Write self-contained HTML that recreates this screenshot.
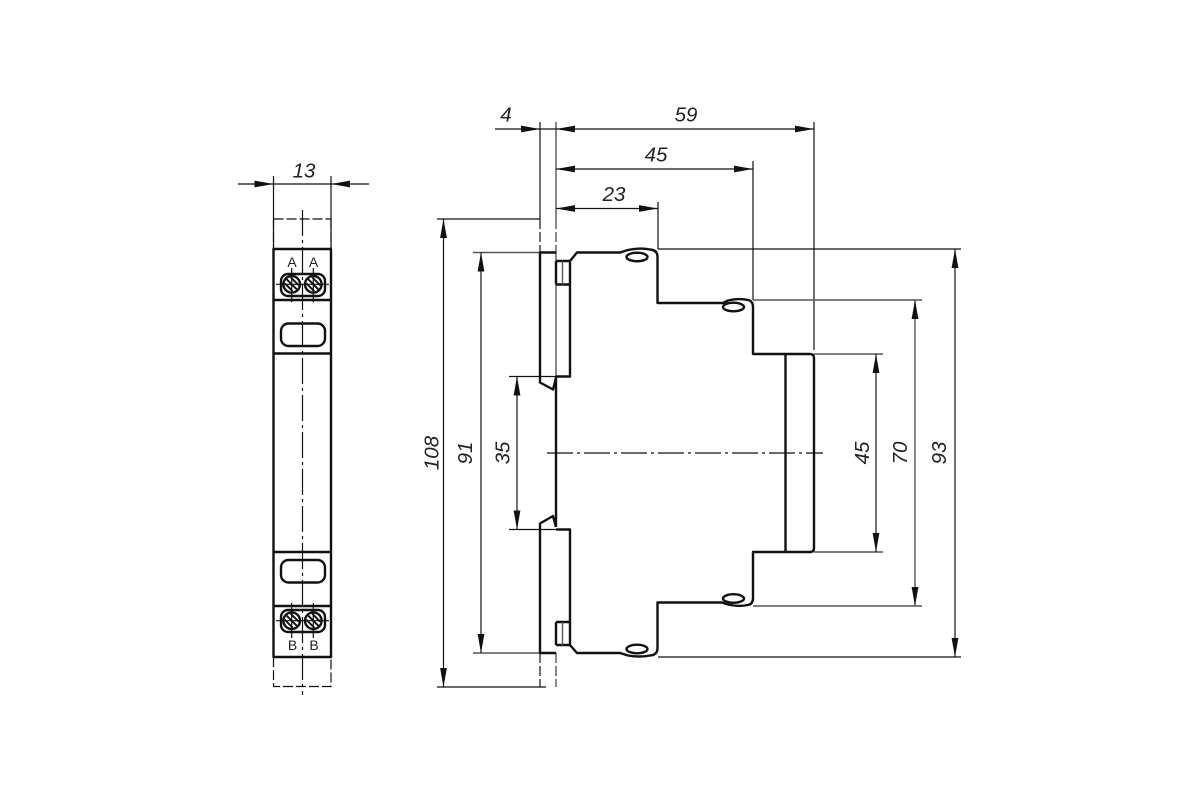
<!DOCTYPE html>
<html><head><meta charset="utf-8"><style>
html,body{margin:0;padding:0;background:#fff}
svg{display:block}
text{font-family:"Liberation Sans",sans-serif;font-style:italic;font-size:20.500px;fill:#222;text-anchor:middle}
.l{font-style:normal;font-size:14px}
.t{stroke:#111;stroke-width:1.200;fill:none}
.g{stroke:#555;stroke-width:1.400;fill:none}
.k{stroke:#111;stroke-width:2.400;fill:none;stroke-linejoin:round}
.a{fill:#111;stroke:none}
</style></head><body>
<svg width="1200" height="800" viewBox="0 0 1200 800" xmlns="http://www.w3.org/2000/svg">
<defs>
<g id="ar"><path class="a" d="M0 0L-19 -3.400L-19 3.400Z"/></g>
<g id="scr"><circle class="k" r="8.300"/><path d="M-5.500 -5.500L5.500 5.500M-1 -7L7 1M-7 -1L1 7" stroke="#111" stroke-width="1.900" fill="none"/></g>
</defs>

<!-- LEFT VIEW -->
<path class="t" d="M273.500 176V249M331 176V249M238 184H369"/>
<use href="#ar" transform="translate(273.500 184)"/>
<use href="#ar" transform="translate(331 184) rotate(180)"/>
<path class="t" stroke-dasharray="10 3" d="M273.500 219H331M273.500 219V249M331 219V249M273.500 657V686.500H331V657"/>
<path class="t" stroke-dasharray="26 4 3 4" d="M302.500 210V695"/>
<rect class="k" x="273.500" y="249" width="57.500" height="408"/>
<path class="k" d="M273.500 300H331M273.500 353.500H331M273.500 552H331M273.500 606H331"/>
<rect class="k" x="281" y="274" width="44" height="22" rx="7"/>
<rect class="k" x="281" y="323.500" width="44" height="22.500" rx="7.500"/>
<rect class="k" x="281" y="560" width="44" height="22.500" rx="7.500"/>
<rect class="k" x="281" y="610" width="44" height="22" rx="7"/>
<use href="#scr" transform="translate(291.700 284.300)"/>
<use href="#scr" transform="translate(313.300 284.300)"/>
<use href="#scr" transform="translate(291.700 620.700)"/>
<use href="#scr" transform="translate(313.300 620.700)"/>
<path class="t" d="M276 284.300H329M291.700 268V302M313.300 268V302M276 620.700H329M291.700 603V638M313.300 603V638"/>
<text class="l" x="292" y="267">A</text>
<text class="l" x="313.500" y="267">A</text>
<text class="l" x="292.500" y="650">B</text>
<text class="l" x="314" y="650">B</text>
<text x="304" y="177.500">13</text>

<!-- RIGHT VIEW: extension lines -->
<path class="t" d="M540 122V219M658 202V249M753 161V300M814 122V350"/>
<path class="g" d="M556 122V219M556 252V376M473 252.500H540M473 653H540"/>
<path class="t" stroke-dasharray="10 3" d="M540 219V252M540 653V687"/>
<path class="g" stroke-dasharray="10 3" d="M556 219V252M556 653V687"/>
<path class="t" d="M437 219H540M437 687H546"/>
<path class="t" d="M509 376.500H556M509 529.500H556"/>
<path class="t" d="M658 249H961M658 657H961"/>
<path class="g" d="M753 300H922M753 606H922M814 354H883M814 552H883"/>

<!-- dimension lines -->
<path class="t" d="M495 129H814M556 169H753M556 208.500H658"/>
<path class="t" d="M443.500 219V687M481 252.500V653M517 376.500V529.500M876 354V552M955 249V657"/>
<path class="g" d="M915 300V606"/>
<use href="#ar" transform="translate(540 129)"/>
<use href="#ar" transform="translate(556 129) rotate(180)"/>
<use href="#ar" transform="translate(814 129)"/>
<use href="#ar" transform="translate(556 169) rotate(180)"/>
<use href="#ar" transform="translate(753 169)"/>
<use href="#ar" transform="translate(556 208.500) rotate(180)"/>
<use href="#ar" transform="translate(658 208.500)"/>
<use href="#ar" transform="translate(443.500 219) rotate(-90)"/>
<use href="#ar" transform="translate(443.500 687) rotate(90)"/>
<use href="#ar" transform="translate(481 252.500) rotate(-90)"/>
<use href="#ar" transform="translate(481 653) rotate(90)"/>
<use href="#ar" transform="translate(517 376.500) rotate(-90)"/>
<use href="#ar" transform="translate(517 529.500) rotate(90)"/>
<use href="#ar" transform="translate(876 354) rotate(-90)"/>
<use href="#ar" transform="translate(876 552) rotate(90)"/>
<use href="#ar" transform="translate(915 300) rotate(-90)"/>
<use href="#ar" transform="translate(915 606) rotate(90)"/>
<use href="#ar" transform="translate(955 249) rotate(-90)"/>
<use href="#ar" transform="translate(955 657) rotate(90)"/>

<!-- center line -->
<path class="t" stroke-dasharray="26 4 3 4" d="M547 453H823"/>

<!-- outline -->
<path class="k" d="M556 376.500H570V261L577 252.500H620L628 250Q640 247.500 650 249.500Q657.500 250 657.500 257V303H723L728 300.500Q738 298 748 300Q753 301 753 307V354H810Q814 354 814 358V548Q814 552 810 552H753V598Q753 604 748 605Q738 607 728 604.500L722 602.500H657.500V648Q657.500 655 650 655.500Q640 657.500 628 655.500L620 653H577L570 645V529.500H556"/>
<path class="k" d="M556 378L553 389.500L540 382.500V252.500H556"/>
<path class="k" d="M556 527L553 516L540 523.500V653H556"/>
<path class="k" d="M556 376.500V527"/>
<path class="k" d="M556 261H570M556 284.500H570M556 261V284.500M556 622H570M556 645H570M556 622V645"/>
<path class="g" d="M562.500 261V284.500M562.500 622V645"/>
<path class="k" d="M785.500 354V552"/>
<ellipse class="k" cx="637" cy="257" rx="10.500" ry="4.300"/>
<ellipse class="k" cx="733.500" cy="307" rx="10.500" ry="4.300"/>
<ellipse class="k" cx="733.500" cy="598.500" rx="10.500" ry="4.300"/>
<ellipse class="k" cx="637" cy="649" rx="10.500" ry="4.300"/>

<!-- labels -->
<text x="506" y="121.500">4</text>
<text x="686" y="121.500">59</text>
<text x="656" y="161.500">45</text>
<text x="614" y="201">23</text>
<text transform="translate(438.500 453) rotate(-90)">108</text>
<text transform="translate(472 453) rotate(-90)">91</text>
<text transform="translate(509.500 453) rotate(-90)">35</text>
<text transform="translate(869 453) rotate(-90)">45</text>
<text transform="translate(907 453) rotate(-90)">70</text>
<text transform="translate(946 453) rotate(-90)">93</text>
</svg>
</body></html>
